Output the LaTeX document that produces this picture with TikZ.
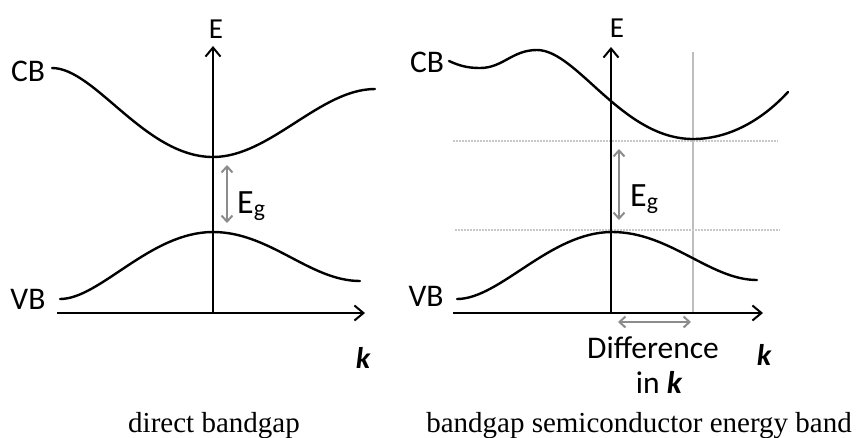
\documentclass[tikz,border=0pt]{standalone}
\usepackage{fontspec}
\setmainfont{Liberation Serif}
\newfontfamily\labfont{Carlito}
\usetikzlibrary{arrows.meta}
\tikzset{
  lab/.style={font=\labfont\fontsize{31.5}{36}\selectfont, inner sep=0pt, anchor=base},
  elab/.style={font=\labfont\fontsize{29}{33}\selectfont, inner sep=0pt, anchor=base},
  eglab/.style={font=\labfont\fontsize{34}{38}\selectfont, inner sep=0pt, anchor=base west},
  klab/.style={font=\labfont\bfseries\itshape\fontsize{30}{34}\selectfont, inner sep=0pt, anchor=base},
  captxt/.style={font=\fontsize{29}{32}\selectfont, inner sep=0pt, anchor=base},
  axis/.style={line width=2pt, -{Straight Barb[length=9pt,width=15pt,line width=2pt]}},
  band/.style={line width=2.4pt, line cap=round},
  garrow/.style={line width=2pt, draw={rgb,255:red,140;green,140;blue,140}, {Straight Barb[length=6pt,width=11pt]}-{Straight Barb[length=6pt,width=11pt]}},
  guide/.style={line width=1.5pt, draw={rgb,255:red,190;green,190;blue,190}},
  dots/.style={line width=1.5pt, draw={rgb,255:red,200;green,200;blue,200}, dash pattern=on 1.5pt off 1.5pt}
}
\begin{document}
\begin{tikzpicture}[x=1pt,y=-1pt]
\useasboundingbox (0,0) rectangle (857,437);
% ---------- left panel ----------
\coordinate (LO) at (57,313);
\coordinate (LK) at (365,313);
\coordinate (LE0) at (213,313);
\coordinate (LE) at (213,46);
\draw[axis] (LO) -- (LK);
\draw[axis] (LE0) -- (LE);
\node[elab] (LEl) at (216,38) {E};
\node[lab] (LCB) at (28,81) {CB};
\node[lab] (LVB) at (28,309) {VB};
\node[klab] (Lk) at (363,368) {k};
\draw[band] (52,68) .. controls (95,68) and (145,157) .. (213,157)
                    .. controls (270,157) and (320,89) .. (375,89);
\draw[band] (60,299) .. controls (100,299) and (150,232) .. (213,232)
                     .. controls (270,232) and (310,281) .. (360,281);
\coordinate (LEg1) at (227,165);
\coordinate (LEg2) at (227,223);
\draw[garrow] (LEg1) -- (LEg2);
\node[eglab] (LEg) at (237,213) {E\textsubscript{g}};
\node[captxt] (Lcap) at (214,432) {direct bandgap};
% ---------- right panel ----------
\coordinate (RO) at (453,313);
\coordinate (RK) at (763,313);
\coordinate (RE0) at (611,313);
\coordinate (RE) at (611,47);
\coordinate (RG1) at (693,52);
\coordinate (RG2) at (693,313);
\draw[guide] (RG1) -- (RG2);
\coordinate (RD1a) at (453,141);
\coordinate (RD1b) at (778,141);
\coordinate (RD2a) at (455,230);
\coordinate (RD2b) at (780,230);
\draw[dots] (RD1a) -- (RD1b);
\draw[dots] (RD2a) -- (RD2b);
\draw[axis] (RO) -- (RK);
\draw[axis] (RE0) -- (RE);
\node[elab] (REl) at (617,37) {E};
\node[lab] (RCB) at (427,72) {CB};
\node[lab] (RVB) at (426,306) {VB};
\node[klab] (Rk) at (764,365) {k};
\draw[band] (449,61) .. controls (460,66) and (468,68) .. (480,68)
                     .. controls (503,68) and (512,50) .. (537,50)
                     .. controls (577,50) and (622,139) .. (693,139)
                     .. controls (732,139) and (765,117) .. (788,92);
\draw[band] (457,299) .. controls (500,299) and (550,232) .. (612,232)
                      .. controls (670,232) and (710,280) .. (757,280);
\coordinate (REg1) at (619,149);
\coordinate (REg2) at (619,220);
\draw[garrow] (REg1) -- (REg2);
\node[eglab] (REg) at (630,206) {E\textsubscript{g}};
\coordinate (RDk1) at (618,322);
\coordinate (RDk2) at (691,322);
\draw[garrow] (RDk1) -- (RDk2);
\node[lab] (Rdiff) at (653,358) {Difference};
\node[lab] (Rin) at (659,393) {in \bfseries\itshape k};
\node[captxt] (Rcap) at (639,432) {bandgap semiconductor energy band};
\end{tikzpicture}
\end{document}
